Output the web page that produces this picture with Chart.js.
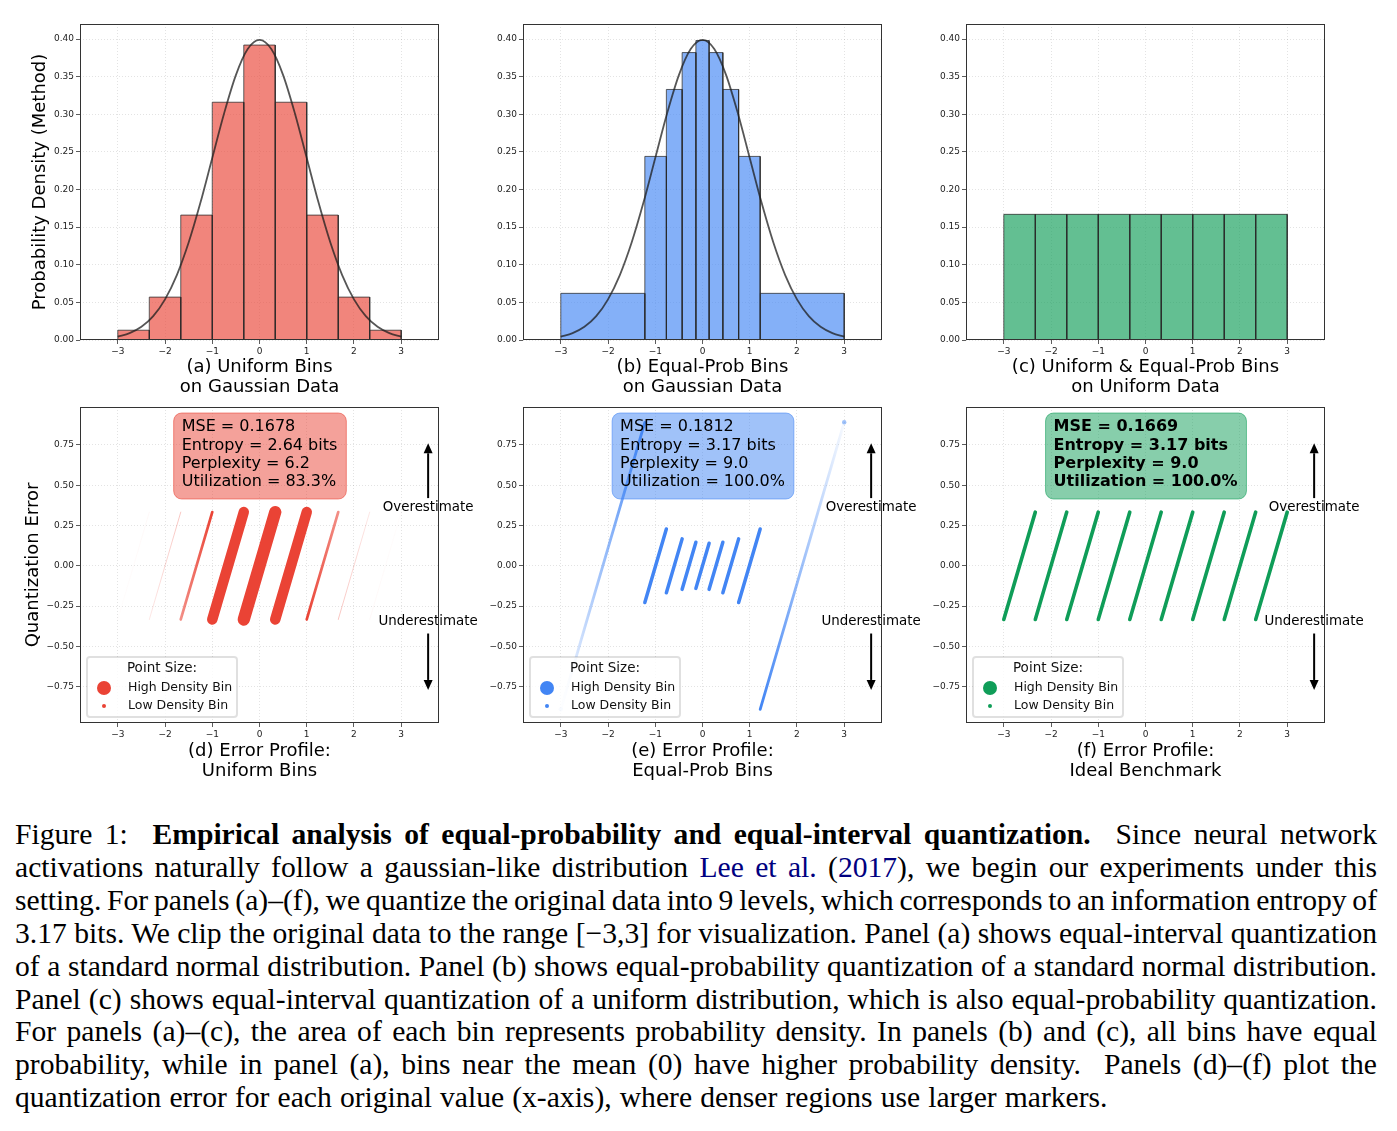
<!DOCTYPE html>
<html>
<head>
<meta charset="utf-8">
<script src="https://cdn.jsdelivr.net/npm/chart.js@4.4.1/dist/chart.umd.min.js"></script>
<style>
  body { margin: 0; background: #fff; width: 1397px; height: 1131px; position: relative; overflow: hidden; }
  canvas { position: absolute; }
  #caption { position: absolute; left: 15px; top: 818px; width: 1362px; font-family: "Liberation Serif", "Times New Roman", serif; font-size: 29.6px; line-height: 32.9px; color: #000; word-spacing: -2.8px; }
  #caption div { text-align: justify; text-align-last: justify; white-space: nowrap; }
  #caption div.last { text-align: left; text-align-last: left; word-spacing: 0.7px; }
  .cite { color: #000080; }
</style>
</head>
<body>
<canvas id="pa" width="479" height="390" style="left:10px;top:14px"></canvas>
<canvas id="pb" width="479" height="390" style="left:453px;top:14px"></canvas>
<canvas id="pc" width="479" height="390" style="left:896px;top:14px"></canvas>
<canvas id="pd" width="479" height="390" style="left:10px;top:397px"></canvas>
<canvas id="pe" width="479" height="390" style="left:453px;top:397px"></canvas>
<canvas id="pf" width="479" height="390" style="left:896px;top:397px"></canvas>

<div id="caption">
  <div>Figure 1:&nbsp; <b>Empirical analysis of equal-probability and equal-interval quantization.</b>&nbsp; Since neural network</div>
  <div>activations naturally follow a gaussian-like distribution <span class="cite">Lee et al.</span> (<span class="cite">2017</span>), we begin our experiments under this</div>
  <div>setting. For panels (a)–(f), we quantize the original data into 9 levels, which corresponds to an information entropy of</div>
  <div>3.17 bits. We clip the original data to the range [−3,3] for visualization. Panel (a) shows equal-interval quantization</div>
  <div>of a standard normal distribution. Panel (b) shows equal-probability quantization of a standard normal distribution.</div>
  <div>Panel (c) shows equal-interval quantization of a uniform distribution, which is also equal-probability quantization.</div>
  <div>For panels (a)–(c), the area of each bin represents probability density. In panels (b) and (c), all bins have equal</div>
  <div>probability, while in panel (a), bins near the mean (0) have higher probability density.&nbsp; Panels (d)–(f) plot the</div>
  <div class="last">quantization error for each original value (x-axis), where denser regions use larger markers.</div>
</div>

<script>
// ---- data ----
const xTicks = [-3, -2, -1, 0, 1, 2, 3];
const densityTicks = [0, 0.05, 0.10, 0.15, 0.20, 0.25, 0.30, 0.35, 0.40];
const errorTicks = [-0.75, -0.5, -0.25, 0, 0.25, 0.5, 0.75];

// bin edges
const uniformEdges = [-3, -2.333, -1.667, -1, -0.333, 0.333, 1, 1.667, 2.333, 3];
const equalProbEdges = [-3, -1.221, -0.765, -0.431, -0.140, 0.140, 0.431, 0.765, 1.221, 3];

// histogram heights (probability density)
const gaussUniformHeights = [0.013, 0.057, 0.166, 0.316, 0.392, 0.316, 0.166, 0.057, 0.013];
const gaussEqualProbHeights = [0.062, 0.244, 0.333, 0.382, 0.398, 0.382, 0.333, 0.244, 0.062];
const uniformDataHeights = [0.167, 0.167, 0.167, 0.167, 0.167, 0.167, 0.167, 0.167, 0.167];

// reference gaussian curve
const curveX = [-3, -2.75, -2.5, -2.25, -2, -1.75, -1.5, -1.25, -1, -0.75, -0.5, -0.25, 0,
                0.25, 0.5, 0.75, 1, 1.25, 1.5, 1.75, 2, 2.25, 2.5, 2.75, 3];
const curveY = [0.0044, 0.0091, 0.0175, 0.0317, 0.054, 0.0863, 0.1295, 0.1826, 0.242, 0.3011, 0.3521, 0.3867, 0.3989,
                0.3867, 0.3521, 0.3011, 0.242, 0.1826, 0.1295, 0.0863, 0.054, 0.0317, 0.0175, 0.0091, 0.0044];

// error profiles: each bin spans error -half..+half across the bin
const uniformHalfErr = [0.333, 0.333, 0.333, 0.333, 0.333, 0.333, 0.333, 0.333, 0.333];
const uniformSizes = [0.6, 1, 2.7, 10.5, 12.3, 10.5, 2.7, 1, 0.6];
const uniformAlphaStart = [0.02, 0.12, 0.6, 1, 1, 1, 1, 0.3, 0.06];
const uniformAlphaEnd = [0.06, 0.3, 1, 1, 1, 1, 0.6, 0.12, 0.02];

const equalProbHalfErr = [0.89, 0.228, 0.167, 0.146, 0.14, 0.146, 0.167, 0.228, 0.89];
const equalProbSizes = [2.8, 3.5, 3.5, 3.5, 3.5, 3.5, 3.5, 3.5, 2.8];
const equalProbAlphaStart = [0.04, 1, 1, 1, 1, 1, 1, 1, 1];
const equalProbAlphaEnd = [1, 1, 1, 1, 1, 1, 1, 1, 0.04];
const equalProbClipX = [-3, 3];
const equalProbClipY = [-0.89, 0.89];

const idealHalfErr = [0.333, 0.333, 0.333, 0.333, 0.333, 0.333, 0.333, 0.333, 0.333];
const idealSizes = [3.6, 3.6, 3.6, 3.6, 3.6, 3.6, 3.6, 3.6, 3.6];
const idealAlpha = [1, 1, 1, 1, 1, 1, 1, 1, 1];

const metricsUniform = ['MSE = 0.1678', 'Entropy = 2.64 bits', 'Perplexity = 6.2', 'Utilization = 83.3%'];
const metricsEqualProb = ['MSE = 0.1812', 'Entropy = 3.17 bits', 'Perplexity = 9.0', 'Utilization = 100.0%'];
const metricsIdeal = ['MSE = 0.1669', 'Entropy = 3.17 bits', 'Perplexity = 9.0', 'Utilization = 100.0%'];

// annotation anchors (data coords)
const arrowX = 3.57;
const overArrow = [0.42, 0.76], overTextY = 0.36;
const underArrow = [-0.42, -0.77], underTextY = -0.347;

// ---- helpers ----
const RED = '234,67,53', BLUE = '66,133,244', GREEN = '15,157,88';
const FONT = '"DejaVu Sans", sans-serif';
Chart.defaults.font.family = FONT;
Chart.defaults.color = '#222';

function rgba(c, a){ return 'rgba(' + c + ',' + a + ')'; }
function minus(s){ return String(s).replace('-', '\u2212'); }

function histDatasets(edges, heights, color){
  return heights.map((h, i) => ({
    type: 'line',
    data: [{x: edges[i], y: 0}, {x: edges[i], y: h}, {x: edges[i+1], y: h}, {x: edges[i+1], y: 0}],
    borderColor: 'rgba(40,40,40,0.75)', borderWidth: 1,
    backgroundColor: rgba(color, 0.65), fill: 'origin',
    pointRadius: 0, tension: 0, order: 2
  }));
}

function curveDataset(){
  return {
    type: 'line',
    data: curveX.map((x, i) => ({x: x, y: curveY[i]})),
    borderColor: 'rgba(30,30,30,0.75)', borderWidth: 1.8,
    pointRadius: 0, fill: false, cubicInterpolationMode: 'monotone', order: 1
  };
}

function fadeColor(color, a0, a1, x0, x1){
  return function(ctx){
    const chart = ctx.chart;
    if (a0 === a1 || !chart.chartArea) return rgba(color, a1);
    const xs = chart.scales.x;
    const g = chart.ctx.createLinearGradient(xs.getPixelForValue(x0), 0, xs.getPixelForValue(x1), 0);
    g.addColorStop(0, rgba(color, a0));
    g.addColorStop(1, rgba(color, a1));
    return g;
  };
}

function segmentDatasets(edges, halfErr, sizes, a0, a1, color){
  return halfErr.map((e, i) => ({
    type: 'line',
    data: [{x: edges[i], y: -e}, {x: edges[i+1], y: e}],
    borderWidth: sizes[i], borderCapStyle: 'round',
    borderColor: fadeColor(color, a0[i], a1[i], edges[i], edges[i+1]),
    pointRadius: 0, fill: false, tension: 0, order: 1
  }));
}

function roundRect(ctx, x, y, w, h, r){
  ctx.beginPath();
  ctx.moveTo(x + r, y);
  ctx.arcTo(x + w, y, x + w, y + h, r);
  ctx.arcTo(x + w, y + h, x, y + h, r);
  ctx.arcTo(x, y + h, x, y, r);
  ctx.arcTo(x, y, x + w, y, r);
  ctx.closePath();
}

function drawArrow(ctx, x, y0, y1){
  const dir = Math.sign(y1 - y0), head = 10, hw = 4.5;
  ctx.strokeStyle = '#000'; ctx.fillStyle = '#000'; ctx.lineWidth = 2;
  ctx.beginPath(); ctx.moveTo(x, y0); ctx.lineTo(x, y1 - dir * head); ctx.stroke();
  ctx.beginPath(); ctx.moveTo(x, y1); ctx.lineTo(x - hw, y1 - dir * head); ctx.lineTo(x + hw, y1 - dir * head); ctx.closePath(); ctx.fill();
}

// frame, metrics box, arrows and legend for one panel
function extras(cfg){
  return {
    id: 'panelExtras',
    afterDatasetsDraw(chart){
      const {ctx, chartArea: ca} = chart;
      const xs = chart.scales.x, ys = chart.scales.y;
      ctx.save();
      if (cfg.metrics){
        ctx.font = (cfg.bold ? 'bold ' : '') + '16px ' + FONT;
        const w = Math.max(...cfg.metrics.map(t => ctx.measureText(t).width));
        const cx = (ca.left + ca.right) / 2, tx = cx - w / 2, top = ca.top + 6;
        roundRect(ctx, tx - 8, top, w + 17, 86, 8);
        ctx.fillStyle = rgba(cfg.color, 0.5); ctx.fill();
        ctx.strokeStyle = rgba(cfg.color, 0.55); ctx.lineWidth = 1; ctx.stroke();
        ctx.fillStyle = '#000'; ctx.textBaseline = 'middle'; ctx.textAlign = 'left';
        cfg.metrics.forEach((t, i) => ctx.fillText(t, tx, top + 14 + i * 18.4));

        const ax = xs.getPixelForValue(arrowX);
        drawArrow(ctx, ax, ys.getPixelForValue(overArrow[0]), ys.getPixelForValue(overArrow[1]));
        drawArrow(ctx, ax, ys.getPixelForValue(underArrow[0]), ys.getPixelForValue(underArrow[1]));
        ctx.font = '13.4px ' + FONT; ctx.textAlign = 'center'; ctx.fillStyle = '#000';
        ctx.fillText('Overestimate', ax, ys.getPixelForValue(overTextY));
        ctx.fillText('Underestimate', ax, ys.getPixelForValue(underTextY));

        const bx = ca.left + 7, by = ca.bottom - 66;
        roundRect(ctx, bx, by, 150, 60, 3);
        ctx.fillStyle = 'rgba(255,255,255,0.8)'; ctx.fill();
        ctx.strokeStyle = 'rgba(0,0,0,0.12)'; ctx.stroke();
        ctx.fillStyle = '#111'; ctx.font = '13.5px ' + FONT; ctx.textAlign = 'center';
        ctx.fillText('Point Size:', bx + 75, by + 11);
        ctx.fillStyle = rgba(cfg.color, 1);
        ctx.beginPath(); ctx.arc(bx + 17, by + 31, 7, 0, Math.PI * 2); ctx.fill();
        ctx.beginPath(); ctx.arc(bx + 17, by + 49, 2, 0, Math.PI * 2); ctx.fill();
        ctx.fillStyle = '#111'; ctx.font = '12.5px ' + FONT; ctx.textAlign = 'left';
        ctx.fillText('High Density Bin', bx + 41, by + 31);
        ctx.fillText('Low Density Bin', bx + 41, by + 49);
      }
      ctx.strokeStyle = '#333'; ctx.lineWidth = 1;
      ctx.strokeRect(Math.round(ca.left) + 0.5, Math.round(ca.top) + 0.5, Math.round(ca.width) - 1, Math.round(ca.height) - 1);
      ctx.restore();
    }
  };
}

function makeScales(yMin, yMax, yTicks, yTitle, yTitlePad, xTitle, xh){
  return {
    x: {
      type: 'linear', min: -3.8, max: 3.8,
      afterBuildTicks: s => { s.ticks = xTicks.map(v => ({value: v})); },
      afterFit: s => { s.height = xh; },
      ticks: { font: {size: 9}, padding: 2, maxRotation: 0, autoSkip: false, color: '#222', callback: v => minus(v) },
      grid: { color: 'rgba(0,0,0,0.14)', lineWidth: 0.8, tickLength: 4, tickColor: '#333', tickWidth: 0.8 },
      border: { display: false, dash: [1, 2] },
      title: { display: true, text: xTitle, color: '#000', font: {size: 18, lineHeight: '20px'}, padding: 0 }
    },
    y: {
      type: 'linear', min: yMin, max: yMax,
      afterBuildTicks: s => { s.ticks = yTicks.map(v => ({value: v})); },
      afterFit: s => { s.width = 70; },
      ticks: { font: {size: 9}, padding: 2, autoSkip: false, color: '#222', callback: v => minus(v.toFixed(2)) },
      grid: { color: 'rgba(0,0,0,0.14)', lineWidth: 0.8, tickLength: 4, tickColor: '#333', tickWidth: 0.8 },
      border: { display: false, dash: [1, 2] },
      title: { display: !!yTitle, text: yTitle || '', color: '#000', font: {size: 18, lineHeight: 1.2}, padding: {top: yTitlePad, bottom: 0} }
    }
  };
}

function makePanel(id, datasets, scales, cfg, xh){
  return new Chart(document.getElementById(id), {
    type: 'line',
    data: { datasets: datasets },
    options: {
      responsive: false, animation: false, devicePixelRatio: 1,
      layout: { padding: {left: 0, right: 50, top: 10, bottom: 390 - 326 - xh} },
      plugins: { legend: {display: false}, tooltip: {enabled: false} },
      scales: scales
    },
    plugins: [extras(cfg)]
  });
}

// ---- top row: histograms ----
makePanel('pa', [curveDataset()].concat(histDatasets(uniformEdges, gaussUniformHeights, RED)),
  makeScales(0, 0.42, densityTicks, 'Probability Density (Method)', 20, ['(a) Uniform Bins', 'on Gaussian Data'], 57), {}, 57);
makePanel('pb', [curveDataset()].concat(histDatasets(equalProbEdges, gaussEqualProbHeights, BLUE)),
  makeScales(0, 0.42, densityTicks, null, 0, ['(b) Equal-Prob Bins', 'on Gaussian Data'], 57), {}, 57);
makePanel('pc', histDatasets(uniformEdges, uniformDataHeights, GREEN),
  makeScales(0, 0.42, densityTicks, null, 0, ['(c) Uniform & Equal-Prob Bins', 'on Uniform Data'], 57), {}, 57);

// ---- bottom row: error profiles ----
makePanel('pd', segmentDatasets(uniformEdges, uniformHalfErr, uniformSizes, uniformAlphaStart, uniformAlphaEnd, RED),
  makeScales(-0.975, 0.985, errorTicks, 'Quantization Error', 13, ['(d) Error Profile:', 'Uniform Bins'], 58),
  {metrics: metricsUniform, color: RED}, 58);

const clipDataset = {
  type: 'line', showLine: false,
  data: equalProbClipX.map((x, i) => ({x: x, y: equalProbClipY[i]})),
  pointRadius: 2.2, pointBorderWidth: 0, pointBackgroundColor: [rgba(BLUE, 0.15), rgba(BLUE, 0.5)], order: 1
};
makePanel('pe', segmentDatasets(equalProbEdges, equalProbHalfErr, equalProbSizes, equalProbAlphaStart, equalProbAlphaEnd, BLUE).concat([clipDataset]),
  makeScales(-0.975, 0.985, errorTicks, null, 0, ['(e) Error Profile:', 'Equal-Prob Bins'], 58),
  {metrics: metricsEqualProb, color: BLUE}, 58);

makePanel('pf', segmentDatasets(uniformEdges, idealHalfErr, idealSizes, idealAlpha, idealAlpha, GREEN),
  makeScales(-0.975, 0.985, errorTicks, null, 0, ['(f) Error Profile:', 'Ideal Benchmark'], 58),
  {metrics: metricsIdeal, color: GREEN, bold: true}, 58);
</script>
</body>
</html>
